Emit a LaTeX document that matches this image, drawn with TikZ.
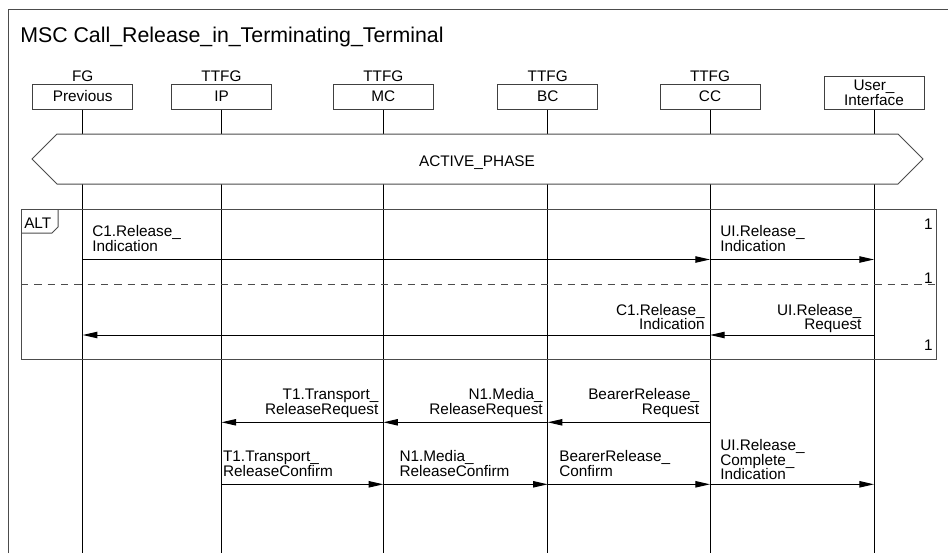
\documentclass[tikz,border=0pt]{standalone}
\usepackage{fontspec}
\setmainfont{Liberation Sans}
\usetikzlibrary{arrows.meta,positioning}
\begin{document}
\begin{tikzpicture}[x=0.75pt,y=-0.75pt,
  txt/.style={inner sep=0pt, text depth=0pt, font=\fontsize{11.5}{11}\selectfont},
  inst/.style={draw=black!75, line width=0.75pt, minimum width=75pt, minimum height=18.75pt, inner sep=0pt, font=\fontsize{11.5}{11}\selectfont},
  kind/.style={txt, above=1.5pt of #1},
  lifeline/.style={black, line width=0.75pt},
  frameline/.style={black!70, line width=0.75pt},
  msg/.style={black, line width=0.75pt, -{Triangle[length=11pt,width=4.8pt]}},
  lblL/.style={txt, anchor=south west, align=left},
  lblR/.style={txt, anchor=south east, align=right}]
\useasboundingbox (0,0) rectangle (948,553);
\draw[frameline] (8,553) -- (8,9.5) -- (948,9.5);
\node[txt, anchor=base west, font=\fontsize{16}{16}\selectfont] (title) at (20,42) {MSC Call\_Release\_in\_Terminating\_Terminal};
\node[inst] (prev) at (82.7,96.5) {Previous};
\node[inst] (ip) at (221.5,96.5) {IP};
\node[inst] (mc) at (383.3,96.5) {MC};
\node[inst] (bc) at (547.7,96.5) {BC};
\node[inst] (cc) at (710,96.5) {CC};
\node[inst, minimum height=24.75pt, align=center] (ui) at (874,92.5) {User\_\\Interface};
\node[kind=prev] (prev-kind) {FG};
\node[kind=ip] (ip-kind) {TTFG};
\node[kind=mc] (mc-kind) {TTFG};
\node[kind=bc] (bc-kind) {TTFG};
\node[kind=cc] (cc-kind) {TTFG};
\coordinate (bottom) at (0,553);
\foreach \i in {prev,ip,mc,bc,cc,ui}
  \draw[lifeline] (\i.south) -- (\i.south |- bottom);
\filldraw[frameline, fill=white] (32,159) -- (57,134) -- (898,134) -- (923,159) -- (898,184) -- (57,184) -- cycle;
\node[txt, anchor=base] (active) at (477,166) {ACTIVE\_PHASE};
\draw[frameline] (21,209) rectangle (936,359);
\draw[frameline] (21,233) -- (52,233) -- (58,227) -- (58,209);
\node[txt, anchor=base west] (alt) at (24,228) {ALT};
\draw[frameline, dash pattern=on 5.5pt off 4.5pt] (21,284) -- (936,284);
\node[txt, anchor=base east] (alt-n1) at (933,229) {1};
\node[txt, anchor=base east] (alt-n2) at (933,283) {1};
\node[txt, anchor=base east] (alt-n3) at (933,350) {1};
\coordinate (r1) at (0,259.5);
\coordinate (r2) at (0,335);
\coordinate (r3) at (0,422.3);
\coordinate (r4) at (0,484.3);
\draw[msg] (prev |- r1) -- (cc |- r1);
\node[lblL, xshift=7pt, yshift=5.8pt] (m1) at (prev |- r1) {C1.Release\_\\Indication};
\draw[msg] (cc |- r1) -- (ui |- r1);
\node[lblL, xshift=7.5pt, yshift=5.8pt] (m2) at (cc |- r1) {UI.Release\_\\Indication};
\draw[msg] (ui |- r2) -- (cc |- r2);
\node[lblR, xshift=-9.2pt, yshift=3.8pt] (m3) at (ui |- r2) {UI.Release\_\\Request};
\draw[msg] (cc |- r2) -- (prev |- r2);
\node[lblR, xshift=-3.8pt, yshift=3.8pt] (m4) at (cc |- r2) {C1.Release\_\\Indication};
\draw[msg] (cc |- r3) -- (bc |- r3);
\node[lblR, xshift=-8pt, yshift=5.6pt] (m5) at (cc |- r3) {BearerRelease\_\\Request};
\draw[msg] (bc |- r3) -- (mc |- r3);
\node[lblR, xshift=-3.5pt, yshift=5.6pt] (m6) at (bc |- r3) {N1.Media\_\\ReleaseRequest};
\draw[msg] (mc |- r3) -- (ip |- r3);
\node[lblR, xshift=-3.5pt, yshift=5.6pt] (m7) at (mc |- r3) {T1.Transport\_\\ReleaseRequest};
\draw[msg] (ip |- r4) -- (mc |- r4);
\node[lblL, xshift=1pt, yshift=5.6pt] (m8) at (ip |- r4) {T1.Transport\_\\ReleaseConfirm};
\draw[msg] (mc |- r4) -- (bc |- r4);
\node[lblL, xshift=12pt, yshift=5.6pt] (m9) at (mc |- r4) {N1.Media\_\\ReleaseConfirm};
\draw[msg] (bc |- r4) -- (cc |- r4);
\node[lblL, xshift=8.5pt, yshift=5.6pt] (m10) at (bc |- r4) {BearerRelease\_\\Confirm};
\draw[msg] (cc |- r4) -- (ui |- r4);
\node[lblL, xshift=7.5pt, yshift=3.2pt] (m11) at (cc |- r4) {UI.Release\_\\Complete\_\\Indication};
\end{tikzpicture}
\end{document}
